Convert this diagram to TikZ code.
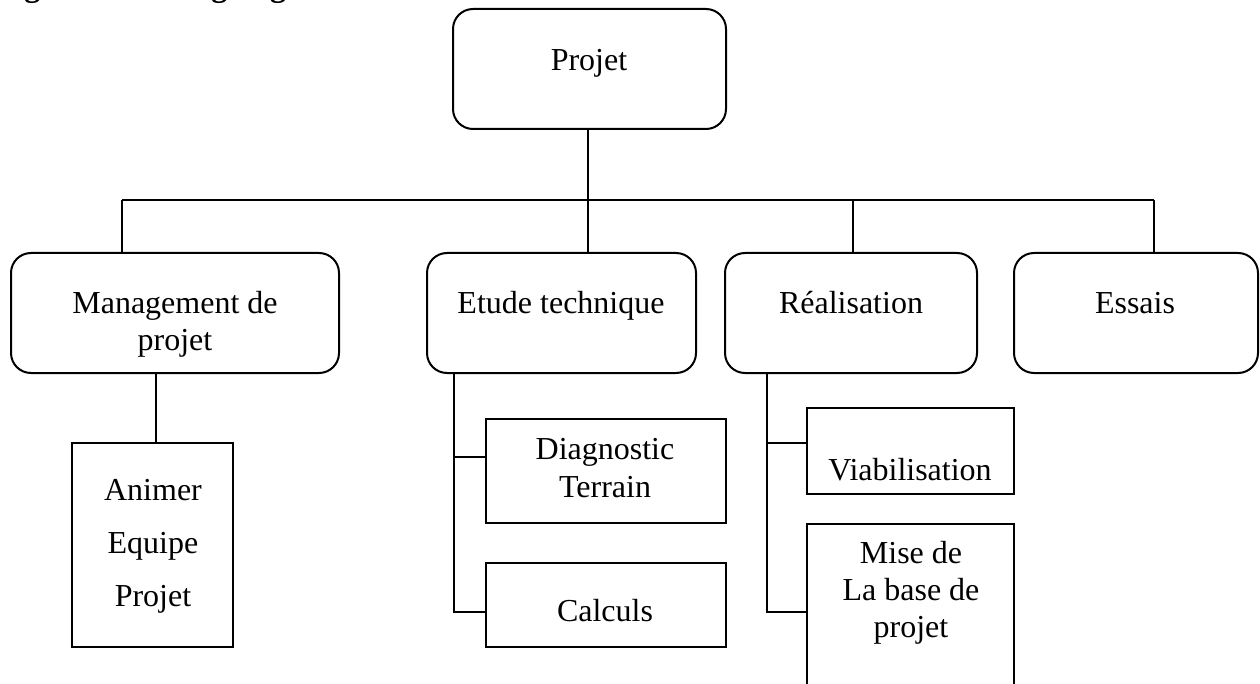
\documentclass[tikz,border=0pt]{standalone}
\usepackage{fontspec}
\setmainfont{Liberation Serif}
\begin{document}
\begin{tikzpicture}[x=1pt,y=-1pt,
  rbox/.style={draw, line width=2pt, rounded corners=20pt, inner sep=0pt},
  sbox/.style={draw, line width=2pt, inner sep=0pt},
  link/.style={line width=2pt},
  txt/.style={inner sep=0pt, align=center, anchor=base, font=\fontsize{32}{38}\selectfont},
  ttl/.style={inner sep=0pt, outer sep=0pt, anchor=base west, font=\bfseries\fontsize{32}{38}\selectfont}]
\useasboundingbox (0,0) rectangle (1260,684);
\fill[white] (0,0) rectangle (1260,684);
\clip (0,0) rectangle (1260,684);

% caption line, only its descenders reach into the frame
\node[ttl] (title) at (-4,-3) {Figure II.1 : Organigramme};

% level 0
\node[rbox, minimum width=273, minimum height=120] (proj) at (589.5,69) {};
\node[txt] (tproj) at (589,71) {Projet};

% level 1
\node[rbox, minimum width=328, minimum height=120] (mgmt)   at (175,313) {};
\node[rbox, minimum width=269, minimum height=120] (etude)  at (561.5,313) {};
\node[rbox, minimum width=252, minimum height=120] (real)   at (851,313) {};
\node[rbox, minimum width=244, minimum height=120] (essais) at (1136,313) {};
% multi-line labels are anchored on the baseline of their last line
\node[txt, font=\fontsize{32}{36}\selectfont] (tmgmt) at (175,350) {Management de\\projet};
\node[txt] (tetude)  at (561,314) {Etude technique};
\node[txt] (treal)   at (851,314) {Réalisation};
\node[txt] (tessais) at (1135,314) {Essais};

% level 2
\node[sbox, minimum width=161, minimum height=204] (anim) at (152.5,545) {};
\node[sbox, minimum width=240, minimum height=104] (diag) at (606,471) {};
\node[sbox, minimum width=240, minimum height=84]  (calc) at (606,605) {};
\node[sbox, minimum width=207, minimum height=86]  (viab) at (910.5,451) {};
\node[sbox, minimum width=207, minimum height=196] (mise) at (910.5,622) {};
\node[txt, font=\fontsize{32}{53}\selectfont] (tanim) at (153,606) {Animer\\Equipe\\Projet};
\node[txt, font=\fontsize{32}{38}\selectfont] (tdiag) at (605,497) {Diagnostic\\Terrain};
\node[txt] (tcalc) at (605,621) {Calculs};
\node[txt] (tviab) at (910,480) {Viabilisation};
\node[txt, font=\fontsize{32}{37}\selectfont] (tmise) at (911,637) {Mise de\\La base de\\projet};

% main bus
\coordinate (busL) at (122,200);
\coordinate (busR) at (1154,200);
\coordinate (dE)   at (588,200);
\coordinate (dR)   at (853,200);
\draw[link] (dE |- proj.south) -- (dE |- etude.north);
\draw[link] (busL) -- (busR);
\draw[link] (busL) -- (busL |- mgmt.north);
\draw[link] (dR) -- (dR |- real.north);
\draw[link] (busR) -- (busR |- essais.north);

% management branch
\coordinate (dA) at (156,443);
\draw[link] (dA |- mgmt.south) -- (dA |- anim.north);

% technical study branch
\coordinate (eb1) at (454,457);
\coordinate (eb2) at (454,612);
\draw[link] (eb1 |- etude.south) -- (eb2) -- (eb2 -| calc.west);
\draw[link] (eb1) -- (eb1 -| diag.west);

% construction branch
\coordinate (rb1) at (767,443);
\coordinate (rb2) at (767,612);
\draw[link] (rb1 |- real.south) -- (rb2) -- (rb2 -| mise.west);
\draw[link] (rb1) -- (rb1 -| viab.west);
\end{tikzpicture}
\end{document}
